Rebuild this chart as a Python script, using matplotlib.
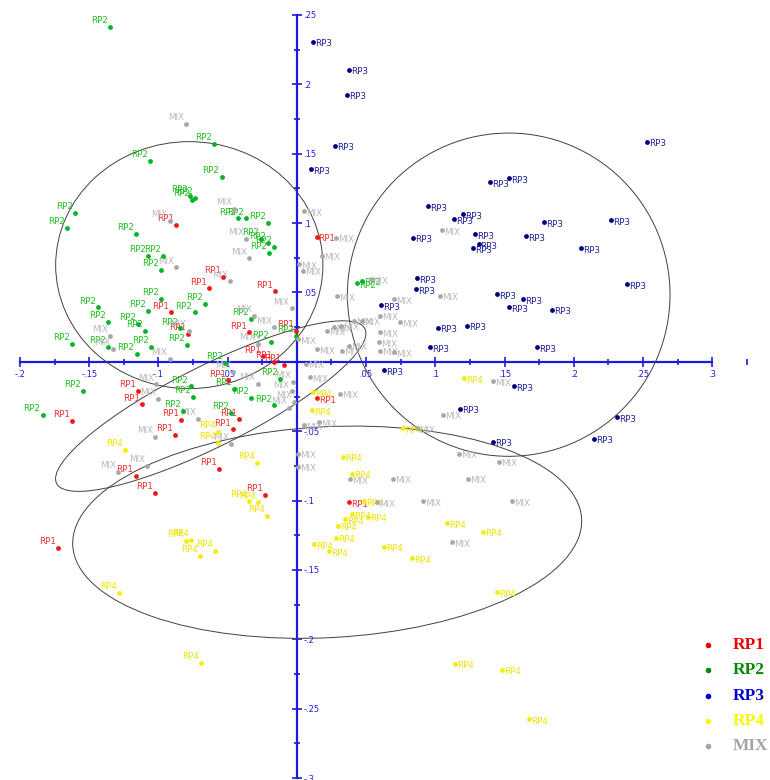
import numpy as np
import matplotlib
matplotlib.use("Agg")
import matplotlib.pyplot as plt
from matplotlib.patches import Ellipse
from matplotlib.ticker import MultipleLocator, FuncFormatter

# Scores (x, y) for each group
RP1_X = [-0.087, -0.0535, -0.0635, -0.0158, -0.0911, -0.0786, -0.0343, -0.0247, -0.0163, -0.0096,
         0.0142, -0.0007, -0.1146, -0.1117, -0.1621, -0.0835, -0.0883, -0.0415, -0.0463, -0.050,
         -0.0563, -0.1165, -0.1022, -0.023, -0.1727, 0.0149, 0.0376]
RP1_Y = [0.0986, 0.0613, 0.0529, 0.0508, 0.0357, 0.0201, 0.0213, 0.004, 0.0002, -0.0022,
         0.0903, 0.0225, -0.021, -0.0307, -0.0426, -0.0417, -0.0524, -0.0414, -0.0486, -0.0134,
         -0.0774, -0.0821, -0.0943, -0.0961, -0.1343, -0.0261, -0.1013]

RP2_X = [-0.1348, -0.0595, -0.106, -0.0544, -0.0758, -0.0734, -0.077, -0.1602, -0.1662, -0.116,
         -0.1074, -0.0966, -0.0978, -0.0422, -0.0367, -0.0211, -0.0259, -0.0163, -0.0204, -0.0211,
         -0.0978, -0.1434, -0.1362, -0.1074, -0.0662, -0.0739, -0.1099, -0.1146, -0.0847, -0.1621,
         -0.1362, -0.1158, -0.105, -0.0794, -0.0331, -0.0187, -0.0007, -0.0516, -0.1542, -0.1837,
         -0.0768, -0.075, -0.0822, -0.0475, -0.0451, -0.0331, -0.0163, -0.012, 0.0432, 0.047]
RP2_Y = [0.2416, 0.1571, 0.1451, 0.1331, 0.1166, 0.1183, 0.1195, 0.1075, 0.0967, 0.092,
         0.0764, 0.0764, 0.0663, 0.1034, 0.1034, 0.1004, 0.0884, 0.0831, 0.0783, 0.0855,
         0.0453, 0.0393, 0.029, 0.0369, 0.0417, 0.0357, 0.0225, 0.0273, 0.0242, 0.0129,
         0.011, 0.0057, 0.011, 0.0122, 0.0309, 0.0146, 0.0189, -0.0007, -0.021, -0.038,
         -0.0177, -0.0254, -0.0354, -0.0369, -0.0194, -0.0261, -0.0314, -0.0122, 0.0565, 0.0585]

RP3_X = [0.0115, 0.0374, 0.036, 0.0273, 0.0101, 0.2532, 0.1396, 0.1535, 0.0945, 0.1132,
         0.1199, 0.1784, 0.2271, 0.0839, 0.1288, 0.1312, 0.1271, 0.1655, 0.2053, 0.2384,
         0.0868, 0.0863, 0.0609, 0.1448, 0.1631, 0.1535, 0.184, 0.1017, 0.1228, 0.0964,
         0.1731, 0.063, 0.1568, 0.118, 0.2312, 0.142, 0.2144]
RP3_Y = [0.2306, 0.2105, 0.1925, 0.1559, 0.1387, 0.1588, 0.1295, 0.1322, 0.1123, 0.1027,
         0.1063, 0.1008, 0.1022, 0.0896, 0.092, 0.0848, 0.0817, 0.0907, 0.0819, 0.0558,
         0.0601, 0.0524, 0.0409, 0.0489, 0.0453, 0.0393, 0.0376, 0.0247, 0.0261, 0.0105,
         0.0105, -0.006, -0.0177, -0.0338, -0.04, -0.0577, -0.0553]

RP4_X = [-0.1242, -0.0571, -0.0571, -0.0288, -0.0283, -0.0343, -0.0216, -0.0763, -0.0799, -0.0588,
         -0.0696, -0.1281, -0.0695, 0.1139, 0.1482, 0.168, 0.1444, 0.1204, 0.012, 0.0108,
         0.0767, 0.0333, 0.04, 0.0484, 0.0513, 0.04, 0.0345, 0.0297, 0.0281, 0.0124,
         0.0232, 0.0628, 0.0832, 0.1084, 0.1343]
RP4_Y = [-0.0632, -0.0506, -0.0582, -0.0728, -0.1013, -0.1004, -0.1108, -0.1284, -0.1291, -0.136,
         -0.1399, -0.1667, -0.217, -0.2177, -0.2218, -0.2577, -0.166, -0.0117, -0.0218, -0.035,
         -0.0477, -0.0685, -0.0805, -0.1004, -0.1116, -0.1099, -0.1133, -0.1181, -0.1267, -0.1315,
         -0.1363, -0.1332, -0.1415, -0.1164, -0.1223]

MIX_X = [-0.0799, -0.0919, -0.0451, -0.0367, -0.0343, -0.087, -0.048, -0.0038, -0.0782, -0.135,
         -0.1331, -0.0919, -0.0307, -0.0163, 0.0053, 0.0281, 0.0185, 0.0017, 0.0041, 0.0532,
         0.0293, 0.07, 0.0221, 0.0269, 0.0317, 0.0412, 0.0472, 0.0604, 0.0748, 0.0604,
         0.0592, 0.07, 0.0149, 0.0329, 0.0376, 0.0005, -0.0283, 0.0065, -0.0463, -0.0283,
         -0.003, -0.0038, -0.002, -0.0055, -0.0714, -0.1014, -0.1002, -0.1026, -0.0475, -0.1081,
         -0.129, 0.0095, 0.0604, 0.016, 0.0053, 0.0312, 0.1415, 0.1055, 0.0868, 0.1168,
         0.1463, 0.001, 0.001, 0.0381, 0.0695, 0.1233, 0.0911, 0.1552, 0.112, 0.0576,
         0.1048, 0.1036]
MIX_Y = [0.1717, 0.1015, 0.1104, 0.0884, 0.0745, 0.068, 0.058, 0.0385, 0.0225, 0.0189,
         0.0093, 0.0022, 0.0333, 0.0249, 0.1087, 0.0896, 0.0764, 0.0704, 0.0656, 0.0596,
         0.0472, 0.0453, 0.0225, 0.0249, 0.0261, 0.0297, 0.0297, 0.0333, 0.0284, 0.0213,
         0.0141, 0.0069, 0.0093, 0.0081, 0.0117, 0.0165, 0.0129, -0.0014, -0.0074, -0.0158,
         -0.0146, -0.0213, -0.029, -0.0333, -0.041, -0.0163, -0.0266, -0.0541, -0.0589, -0.0752,
         -0.0793, -0.011, 0.0081, -0.0434, -0.0458, -0.023, -0.0139, -0.0381, -0.0477, -0.0661,
         -0.0721, -0.0661, -0.0757, -0.0848, -0.0841, -0.0841, -0.1004, -0.1004, -0.13, -0.1013,
         0.0948, 0.0476]

GROUPS = ["RP1", "RP2", "RP3", "RP4", "MIX"]
DOT_COLORS = ["#f01818", "#00b424", "#000080", "#f4ee00", "#a8a8a8"]
LABEL_COLORS = ["#f03030", "#20c020", "#20209a", "#eee400", "#b8b8b8"]
LEGEND_COLORS = ["#ee0000", "#008a00", "#0000cc", "#f8f800", "#a4a4a4"]

# group ellipses: centre x, centre y, width, height, angle
ELLIPSES = [
    (-0.0777, 0.0697, 0.193, 0.178, 0),
    (0.153, 0.0484, 0.233, 0.233, 0),
    (-0.0622, -0.0319, 0.249, 0.058, 26.6),
    (0.0219, -0.1228, 0.368, 0.152, 3),
]

AXIS_BLUE = "#1a1ae0"

fig = plt.figure(figsize=(7.7, 7.8), dpi=100)
ax = fig.add_axes([0, 0, 1, 1])

# axes crossing at the origin
for side in ["top", "left"]:
    ax.spines[side].set_visible(False)
ax.spines["bottom"].set_position("zero")
ax.spines["right"].set_position("zero")
ax.spines["bottom"].set_bounds(-0.2, 0.3)
ax.spines["right"].set_bounds(-0.3, 0.25)
for side in ["bottom", "right"]:
    ax.spines[side].set_color(AXIS_BLUE)
    ax.spines[side].set_linewidth(1.6)
    ax.spines[side].set_zorder(1)
ax.yaxis.tick_right()
ax.xaxis.tick_bottom()

ax.set_xticks(np.arange(-0.2, 0.3001, 0.05))
ax.set_yticks(np.arange(-0.3, 0.2501, 0.05))
ax.xaxis.set_minor_locator(MultipleLocator(0.025))
ax.yaxis.set_minor_locator(MultipleLocator(0.025))


def short_label(v, pos):
    v = round(v, 3)
    if abs(v) < 1e-9:
        return ""
    s = f"{v:g}"
    return s.replace("0.", ".")


ax.xaxis.set_major_formatter(FuncFormatter(short_label))
ax.yaxis.set_major_formatter(FuncFormatter(short_label))
ax.tick_params(which="major", direction="inout", length=7.5, width=1.2, color=AXIS_BLUE,
               labelcolor=AXIS_BLUE, labelsize=6, pad=2)
ax.tick_params(which="minor", direction="inout", length=5, width=1.2, color=AXIS_BLUE)
ax.tick_params(axis="y", pad=1)
ax.set_xlim(-0.2144, 0.3417)
ax.set_ylim(-0.3014, 0.2608)

for cx, cy, w, h, ang in ELLIPSES:
    ax.add_patch(Ellipse((cx, cy), w, h, angle=ang, fill=False, edgecolor="#404040",
                         linewidth=0.7, zorder=2))

data = [(RP1_X, RP1_Y), (RP2_X, RP2_Y), (RP3_X, RP3_Y), (RP4_X, RP4_Y), (MIX_X, MIX_Y)]
for name, (xs, ys), dc, lc in zip(GROUPS, data, DOT_COLORS, LABEL_COLORS):
    ax.scatter(xs, ys, s=12, color=dc, zorder=4, linewidths=0)
    for x, y in zip(xs, ys):
        if x < 0:
            ax.annotate(name, (x, y), xytext=(-1.5, 4.5), textcoords="offset points",
                        ha="right", va="center", fontsize=6.3, color=lc, zorder=3)
        else:
            ax.annotate(name, (x, y), xytext=(1.5, -1.5), textcoords="offset points",
                        ha="left", va="center", fontsize=6.3, color=lc, zorder=3)

# legend drawn by hand at the bottom right
for i, (name, dc, tc) in enumerate(zip(GROUPS, DOT_COLORS, LEGEND_COLORS)):
    yy = 0.173 - i * 0.0325
    fig.lines.append(plt.Line2D([0.919], [yy], marker="o", markersize=3, color=tc,
                                linestyle="none", transform=fig.transFigure))
    fig.text(0.951, yy, name, color=tc, fontsize=12.5, fontweight="bold",
             family="Liberation Serif", ha="left", va="center")

fig.savefig("out.png", dpi=100)
